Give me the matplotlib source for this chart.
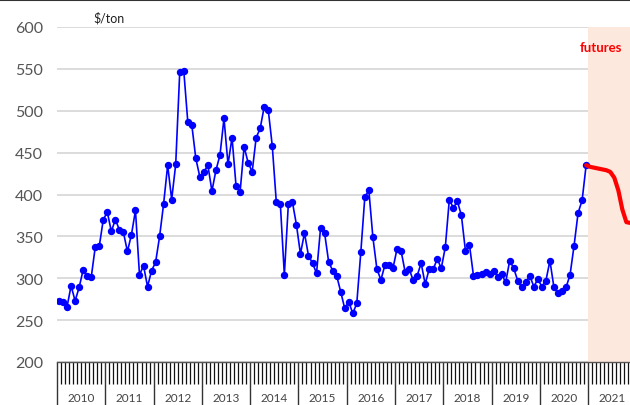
import numpy as np
import matplotlib
matplotlib.use('Agg')
import matplotlib.pyplot as plt
from matplotlib.lines import Line2D
import matplotlib.transforms as mtransforms

# Monthly average price, $/ton, Jan 2010 - Dec 2020
prices_2010 = [273, 272, 266, 291, 273, 289, 310, 303, 301, 337, 338, 370]
prices_2011 = [379, 356, 370, 358, 355, 332, 352, 381, 304, 315, 290, 309]
prices_2012 = [319, 350, 389, 435, 394, 436, 546, 548, 487, 483, 443, 421]
prices_2013 = [427, 435, 404, 429, 447, 491, 436, 468, 410, 403, 457, 438]
prices_2014 = [427, 468, 479, 505, 501, 458, 391, 389, 304, 389, 391, 364]
prices_2015 = [329, 354, 327, 318, 306, 360, 354, 320, 309, 303, 284, 264]
prices_2016 = [272, 258, 270, 331, 397, 405, 349, 311, 298, 316, 316, 312]
prices_2017 = [335, 333, 308, 311, 298, 303, 318, 293, 311, 311, 323, 312]
prices_2018 = [337, 394, 384, 392, 375, 333, 340, 303, 304, 305, 308, 305]
prices_2019 = [309, 302, 305, 295, 321, 312, 297, 289, 295, 303, 290, 299]
prices_2020 = [290, 297, 321, 289, 282, 285, 289, 304, 339, 378, 393, 435]

# Futures curve, Dec 2020 onwards
futures = [435, 433, 432, 431, 430, 429, 427, 420, 405, 382, 367, 366]

years = list(range(2010, 2022))
yticks = [200, 250, 300, 350, 400, 450, 500, 550, 600]

prices = (prices_2010 + prices_2011 + prices_2012 + prices_2013 + prices_2014 +
          prices_2015 + prices_2016 + prices_2017 + prices_2018 + prices_2019 +
          prices_2020)
months = np.arange(len(prices))
futures_x = np.arange(len(prices) - 1, len(prices) - 1 + len(futures))

fig = plt.figure(figsize=(6.3, 4.06), dpi=100)
ax = fig.add_axes([57 / 630, 1 - 363 / 406, 573 / 630, 335 / 406])

x_end = 141.9
ax.set_xlim(-0.5, x_end)
ax.set_ylim(200, 600)

# futures area
ax.axvspan(len(prices) - 0.5, x_end, color='#fce8dc', zorder=1, lw=0)

ax.plot(months, prices, color='#0000ff', lw=1.2, marker='o', ms=4.3, zorder=3)
ax.plot(futures_x, futures, color='#ff0000', lw=3, solid_capstyle='round',
        zorder=4)

ax.set_yticks(yticks)
ax.yaxis.grid(True, color='#d2d2d2', lw=1.1, zorder=0)
ax.set_axisbelow(True)
ax.tick_params(axis='y', length=0, pad=10, labelsize=11.5, labelcolor='#555555')
for lab in ax.get_yticklabels():
    lab.set_fontfamily('Lato')

# month ticks and long year dividers
ax.set_xticks([12 * i - 0.5 for i in range(len(years))])
ax.set_xticks(np.arange(-0.5, x_end, 1), minor=True)
ax.tick_params(axis='x', which='major', length=31, width=1, color='#333333',
               labelbottom=False)
ax.tick_params(axis='x', which='minor', length=16, width=0.9, color='#111111')

trans = mtransforms.blended_transform_factory(ax.transData, ax.transAxes)
for i, yr in enumerate(years):
    ax.text(12 * i + 5.5, -0.105, str(yr), transform=trans, ha='center',
            va='center', fontsize=8.5, color='#444444', family='Lato',
            clip_on=False)

for side in ['left', 'right', 'top']:
    ax.spines[side].set_visible(False)
ax.spines['bottom'].set_color('#555555')
ax.spines['bottom'].set_linewidth(1)

fig.text(93 / 630, 1 - 18 / 406, '$/ton', fontsize=9, color='#222222',
         va='center', family='Lato')
fig.text(580 / 630, 1 - 48 / 406, 'futures', fontsize=9.5, color='#ff0000',
         va='center', fontweight='bold', family='Lato')

fig.add_artist(Line2D([0, 1], [0.998, 0.998], color='#333333', lw=1.5,
                      transform=fig.transFigure))

fig.savefig('out.png', dpi=100)
